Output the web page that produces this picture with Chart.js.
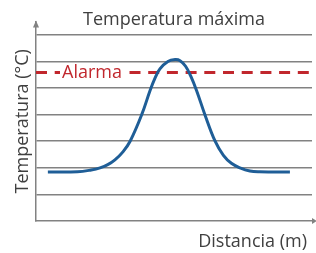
<!DOCTYPE html>
<html>
<head>
<meta charset="utf-8">
<script src="https://cdn.jsdelivr.net/npm/chart.js@4"></script>
<style>
  html, body { margin: 0; padding: 0; background: #fff; }
  #wrap { width: 316px; height: 253px; }
</style>
</head>
<body>
<div id="wrap"><canvas id="chart"></canvas></div>
<script>
// curve (x: distance 0..100, y: temperature grid units)
const distX = [4.3, 15, 20, 23.2, 26, 28.6, 31.5, 34.1, 38.3, 41.3, 43, 44.9, 47.8, 50.4,
               52.2, 54.2, 56.2, 58.2, 61.2, 64.9, 67.9, 70.8, 73.9, 77.5, 81, 92];
const tempY = [1.84, 1.85, 1.92, 2.0, 2.12, 2.3, 2.6, 3.0, 4.0, 4.9, 5.35, 5.72, 6.0, 6.07,
               6.03, 5.82, 5.42, 4.9, 4.0, 3.0, 2.47, 2.17, 2.0, 1.88, 1.85, 1.84];
const alarmLevel = 5.59;
const gridTicks = [0, 1, 2, 3, 4, 5, 6, 7];

const titleText = 'Temperatura máxima';
const yTitle = 'Temperatura (°C)';
const xTitle = 'Distancia (m)';
const alarmText = 'Alarma';

const GRID = '#828282';
const TEXT = '#404040';
const RED = '#c1272d';
const BLUE = '#1f5e97';
const FONT = '"Open Sans", sans-serif';

const curve = distX.map((x, i) => ({ x, y: tempY[i] }));

// arrow heads on the axes, alarm label box, x axis caption
const extras = {
  id: 'extras',
  afterDatasetsDraw(chart) {
    const { ctx, chartArea: a, scales: { y } } = chart;
    const ay = y.getPixelForValue(alarmLevel);
    ctx.save();
    ctx.font = '18px ' + FONT;
    const w = ctx.measureText(alarmText).width;
    ctx.fillStyle = '#fff';
    ctx.fillRect(a.left + 24, ay - 9, w + 5, 18);
    ctx.fillStyle = RED;
    ctx.textBaseline = 'middle';
    ctx.fillText(alarmText, a.left + 26, ay + 0.5);
    ctx.restore();
  },
  afterDraw(chart) {
    const { ctx, chartArea: a } = chart;
    ctx.save();
    ctx.strokeStyle = GRID;
    ctx.fillStyle = GRID;
    ctx.lineWidth = 1.5;
    ctx.beginPath();
    ctx.moveTo(a.right, a.bottom);
    ctx.lineTo(a.right + 2, a.bottom);
    ctx.stroke();
    ctx.beginPath();
    ctx.moveTo(a.right + 5, a.bottom);
    ctx.lineTo(a.right, a.bottom - 3);
    ctx.lineTo(a.right, a.bottom + 3);
    ctx.closePath();
    ctx.fill();
    ctx.beginPath();
    ctx.moveTo(a.left, a.top - 1);
    ctx.lineTo(a.left - 3, a.top + 6);
    ctx.lineTo(a.left + 3, a.top + 6);
    ctx.closePath();
    ctx.fill();

    ctx.font = '18px ' + FONT;
    ctx.fillStyle = TEXT;
    ctx.textAlign = 'right';
    ctx.textBaseline = 'middle';
    ctx.fillText(xTitle, a.right - 5, a.bottom + 20.5);
    ctx.restore();
  }
};

new Chart(document.getElementById('chart'), {
  type: 'line',
  data: {
    datasets: [
      {
        label: 'Temperatura',
        data: curve,
        borderColor: BLUE,
        borderWidth: 3,
        pointRadius: 0,
        fill: false,
        tension: 0.4,
      },
      {
        label: alarmText,
        data: [{ x: 0, y: alarmLevel }, { x: 100, y: alarmLevel }],
        borderColor: RED,
        borderWidth: 3,
        borderDash: [11, 7.7],
        pointRadius: 0,
        fill: false,
      },
    ],
  },
  options: {
    responsive: true,
    maintainAspectRatio: false,
    animation: false,
    layout: { padding: { top: 0, right: 4, bottom: 0, left: 0 } },
    plugins: {
      legend: { display: false },
      tooltip: { enabled: false },
      title: {
        display: true,
        text: titleText,
        fullSize: false,
        color: TEXT,
        font: { family: FONT, size: 18, weight: 'normal', lineHeight: 1.2 },
        padding: { top: 9, bottom: -9 },
      },
    },
    scales: {
      x: {
        type: 'linear',
        min: 0,
        max: 100,
        grid: { display: false, drawTicks: false },
        border: { color: GRID, width: 1.5 },
        ticks: { display: false },
        afterFit: (s) => { s.height = 32; },
      },
      y: {
        min: 0,
        max: 7.5,
        afterBuildTicks: (s) => { s.ticks = gridTicks.map(v => ({ value: v })); },
        grid: {
          drawTicks: false,
          lineWidth: 1.5,
          color: (c) => c.tick && c.tick.value === 0 ? 'rgba(0,0,0,0)' : GRID,
        },
        border: { color: GRID, width: 1.5 },
        ticks: { display: false },
        title: {
          display: true,
          text: yTitle,
          color: TEXT,
          font: { family: FONT, size: 18, lineHeight: 1.2 },
          padding: { top: 12.5, bottom: 0 },
        },
        afterFit: (s) => { s.width = 36; },
      },
    },
  },
  plugins: [extras],
});
</script>
</body>
</html>
